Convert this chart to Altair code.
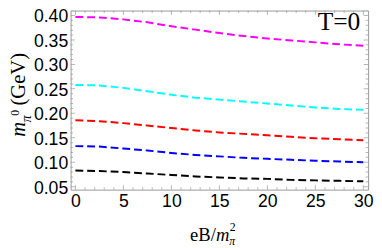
import altair as alt
import pandas as pd

# ---- data ----
eB = [0, 2.5, 5, 7.5, 10, 12.5, 15, 17.5, 20, 22.5, 25, 27.5, 30]
m_magenta = [0.397, 0.396, 0.392, 0.386, 0.378, 0.371, 0.364, 0.358, 0.353, 0.349, 0.345, 0.341, 0.338]
m_cyan = [0.258, 0.257, 0.252, 0.245, 0.238, 0.232, 0.228, 0.224, 0.220, 0.216, 0.212, 0.209, 0.207]
m_red = [0.186, 0.184, 0.180, 0.175, 0.170, 0.165, 0.161, 0.158, 0.155, 0.152, 0.149, 0.147, 0.145]
m_blue = [0.133, 0.132, 0.128, 0.124, 0.119, 0.115, 0.112, 0.109, 0.107, 0.105, 0.103, 0.1015, 0.100]
m_black = [0.083, 0.082, 0.080, 0.077, 0.074, 0.071, 0.069, 0.067, 0.066, 0.064, 0.063, 0.062, 0.061]

series_names = ["s1", "s2", "s3", "s4", "s5"]
series_values = [m_magenta, m_cyan, m_red, m_blue, m_black]
series_colors = ["#ff00ff", "#00ffff", "#ff0000", "#0000ff", "#000000"]

x_ticks = [0, 5, 10, 15, 20, 25, 30]
y_ticks = [0.05, 0.10, 0.15, 0.20, 0.25, 0.30, 0.35, 0.40]
x_minor = [v for v in range(0, 31) if v % 5 != 0]
y_minor = [round(0.05 + 0.01 * i, 2) for i in range(0, 37) if i % 5 != 0]

rows = []
for name, vals in zip(series_names, series_values):
    for x, y in zip(eB, vals):
        rows.append({"eB": x, "m": y, "s": name})
df = pd.DataFrame(rows)

W, H = 304, 183
FRAME = "#999999"

xs = alt.Scale(domain=[-0.5, 30.5], nice=False, zero=False)
ys = alt.Scale(domain=[0.044, 0.41], nice=False, zero=False)

x_axis = alt.Axis(values=x_ticks, title=None, ticks=False, domain=False, grid=False,
                  labelFont="Liberation Sans", labelFontSize=18, labelColor="black",
                  labelPadding=3)
y_axis = alt.Axis(values=y_ticks, format=".2f", title=None, ticks=False, domain=False,
                  grid=False, labelFont="Liberation Sans", labelFontSize=18,
                  labelColor="black", labelPadding=3, labelOffset=1.5)

lines = alt.Chart(df).mark_line(strokeWidth=2, strokeDash=[8, 4]).encode(
    x=alt.X("eB:Q", scale=xs, axis=x_axis),
    y=alt.Y("m:Q", scale=ys, axis=y_axis),
    color=alt.Color("s:N", scale=alt.Scale(domain=series_names, range=series_colors), legend=None),
)

def yticks(vals, size, xpos):
    return alt.Chart(pd.DataFrame({"m": vals})).mark_tick(
        orient="horizontal", size=size, thickness=1, color=FRAME, clip=True
    ).encode(y=alt.Y("m:Q", scale=ys, axis=y_axis), x=alt.value(xpos))

def xticks(vals, size, ypos):
    return alt.Chart(pd.DataFrame({"eB": vals})).mark_tick(
        orient="vertical", size=size, thickness=1, color=FRAME, clip=True
    ).encode(x=alt.X("eB:Q", scale=xs, axis=x_axis), y=alt.value(ypos))

tick_layers = [
    yticks(y_ticks, 9, 0), yticks(y_minor, 5, 0),
    yticks(y_ticks, 9, W), yticks(y_minor, 5, W),
    xticks(x_ticks, 9, H), xticks(x_minor, 5, H),
    xticks(x_ticks, 9, 0), xticks(x_minor, 5, 0),
]

def txt(s, x, y, size, style="normal", angle=0, font="Liberation Serif", align="left"):
    return alt.Chart(pd.DataFrame({"t": [s]})).mark_text(
        font=font, fontSize=size, fontStyle=style, angle=angle, align=align,
        baseline="alphabetic", color="black"
    ).encode(text="t:N", x=alt.value(x), y=alt.value(y))

labels = [
    txt("T=0", 296, 20, 26, align="right"),
    # y title
    txt("m", -47, 129, 21, style="italic", angle=270),
    txt("π", -41, 114, 14, style="italic", angle=270),
    txt("0", -53, 107.5, 12, angle=270),
    txt("(GeV)", -47, 97, 21, angle=270),
    # x title
    txt("eB/", 122, 235, 19),
    txt("m", 148.5, 235, 19, style="italic"),
    txt("2", 162.5, 225.5, 12),
    txt("π", 162, 239.5, 12, style="italic"),
]

chart = alt.layer(lines, *tick_layers, *labels).properties(
    width=W, height=H,
    autosize=alt.AutoSizeParams(type="none"),
    padding={"left": 64, "top": 0, "right": 6, "bottom": 57},
).configure(background="white").configure_view(stroke=FRAME, strokeWidth=1)

chart.save("out.html", embed_options={"renderer": "svg", "actions": False})
